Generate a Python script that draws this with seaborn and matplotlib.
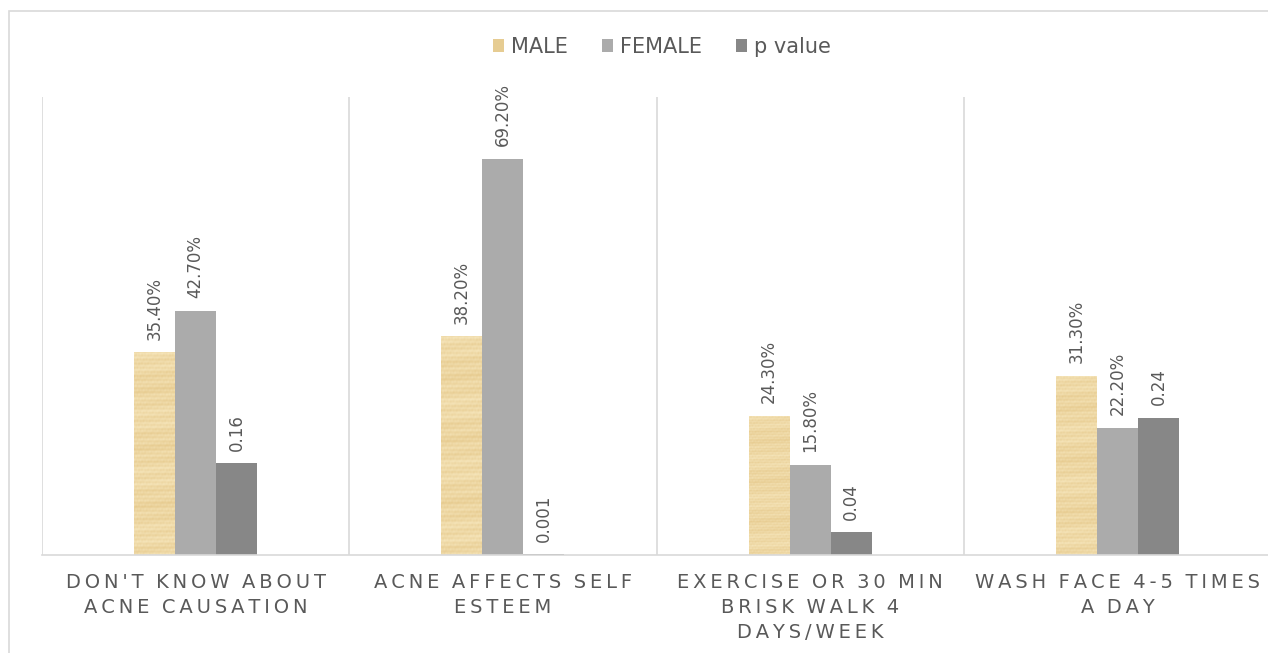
import numpy as np
import pandas as pd
import matplotlib
matplotlib.use("Agg")
import matplotlib.pyplot as plt
from matplotlib.patches import Rectangle, Patch
import seaborn as sns

# Survey items (x axis) and the three series drawn for each
categories = [
    "DON'T KNOW ABOUT\nACNE CAUSATION",
    "ACNE AFFECTS SELF\nESTEEM",
    "EXERCISE OR 30 MIN\nBRISK WALK 4\nDAYS/WEEK",
    "WASH FACE 4-5 TIMES\nA DAY",
]
series = ["MALE", "FEMALE", "p value"]
male = [0.354, 0.382, 0.243, 0.313]
female = [0.427, 0.692, 0.158, 0.222]
p_value = [0.16, 0.001, 0.04, 0.24]
p_labels = ["0.16", "0.001", "0.04", "0.24"]

colors = {"MALE": "#E6CC92", "FEMALE": "#ABABAB", "p value": "#878787"}
text_color = "#595959"
grid_color = "#D9D9D9"

sns.set_theme(style="white")
plt.rcParams["font.family"] = ["DejaVu Sans"]

df = pd.DataFrame({
    "item": categories * 3,
    "series": [s for s in series for _ in categories],
    "value": male + female + p_value,
})

fig = plt.figure(figsize=(12.68, 6.53), dpi=100)
ax = fig.add_axes([0.0331, 0.1501, 0.9693, 0.7014])

sns.barplot(data=df, x="item", y="value", hue="series", hue_order=series,
            palette=colors, width=0.4, gap=0, saturation=1, ax=ax,
            errorbar=None, legend=False, edgecolor="none", linewidth=0)

ax.set_xlim(-0.5, 3.5)
ax.set_ylim(0, 0.8)
ax.set_xlabel("")
ax.set_ylabel("")
ax.set_yticks([])
for side in ["top", "right", "left"]:
    ax.spines[side].set_visible(False)
ax.spines["bottom"].set_color(grid_color)
ax.spines["bottom"].set_linewidth(1.2)

# separators between item groups
for xv in np.arange(-0.5, 4.0, 1.0):
    ax.axvline(xv, color=grid_color, linewidth=1.2, zorder=0)

# parchment-like texture on the MALE bars (streaky, mostly horizontal)
yy, xx = np.mgrid[0:240, 0:40]
tex = (0.55 + 0.14 * np.sin(yy * 1.3) + 0.10 * np.sin(yy * 0.37 + xx * 0.05)
       + 0.08 * np.cos(xx * 2.1) * np.sin(yy * 0.6)
       + 0.08 * np.sin(yy * 0.09 + 1.0) + 0.05 * np.cos(xx * 0.9 + yy * 0.8))
tex = np.clip(tex, 0, 1)
tan = np.array([0.89, 0.77, 0.52])
light = np.array([0.97, 0.91, 0.75])
rgb = tan[None, None, :] * (1 - tex[..., None]) + light[None, None, :] * tex[..., None]

containers = ax.containers
for patch in containers[0]:
    x0, y0 = patch.get_x(), patch.get_y()
    w, h = patch.get_width(), patch.get_height()
    im = ax.imshow(rgb, extent=(x0, x0 + w, y0, y0 + h), aspect="auto",
                   interpolation="bilinear", zorder=patch.get_zorder() + 0.1)
    im.set_clip_path(patch)

label_sets = [
    [f"{v * 100:.2f}%" for v in male],
    [f"{v * 100:.2f}%" for v in female],
    p_labels,
]
for cont, labs in zip(containers, label_sets):
    ax.bar_label(cont, labels=labs, rotation=90, padding=9,
                 fontsize=12, color=text_color)

ax.set_xticks(range(len(categories)))
spaced = []
for c in categories:
    lines = []
    for line in c.split("\n"):
        words = ["\u2009".join(list(w)) for w in line.split(" ")]
        lines.append("  ".join(words))
    spaced.append("\n".join(lines))
ax.set_xticklabels(spaced, fontsize=14, color=text_color, linespacing=1.4)
ax.tick_params(axis="x", length=0, pad=13)

handles = [Patch(facecolor=colors[s], edgecolor="none", label=s) for s in series]
fig.legend(handles=handles, loc="center", bbox_to_anchor=(0.522, 0.928), ncol=3,
           frameon=False, fontsize=15, handlelength=0.55, handleheight=0.55,
           handletextpad=0.35, columnspacing=1.6, labelcolor=text_color)

# outer chart border
fig.add_artist(Rectangle((9 / 1268, -0.05), 1.1, (653 - 11) / 653 + 0.05,
                         transform=fig.transFigure, fill=False,
                         edgecolor=grid_color, linewidth=1.2))

fig.savefig("out.png", dpi=100, facecolor="white")
